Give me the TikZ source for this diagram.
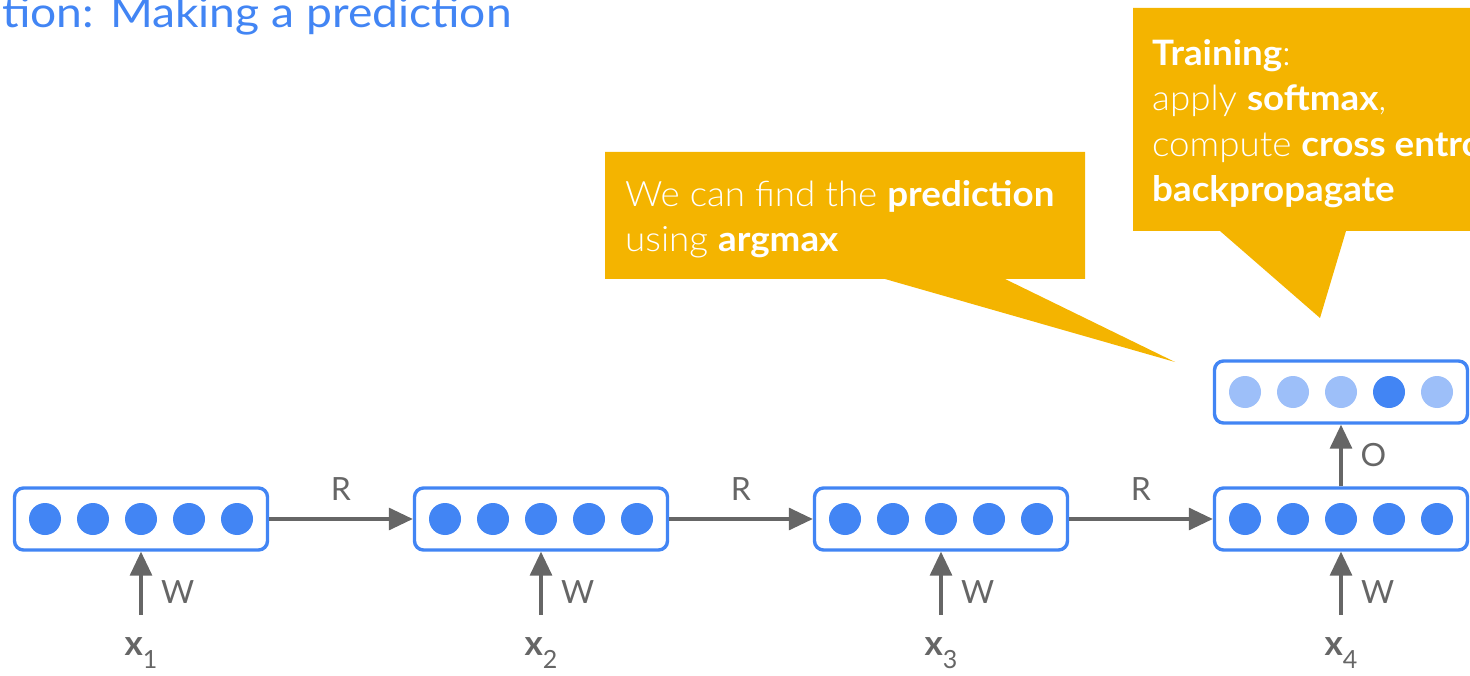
\documentclass[tikz,border=0pt]{standalone}
\usepackage{fontspec}
\setmainfont{Lato}
\newfontfamily\titlefont{Lato}[FakeStretch=1.1]
\newfontfamily\lightfont{Lato Light}[BoldFont=Lato Bold, FakeStretch=1.05]
\usetikzlibrary{arrows.meta,calc}
\definecolor{gblue}{HTML}{4285F4}
\definecolor{lblue}{HTML}{9DBFF9}
\definecolor{ggray}{HTML}{666666}
\definecolor{gyellow}{HTML}{F4B400}
\begin{document}
\begin{tikzpicture}[x=1pt,y=-1pt,
  vec/.style={draw=gblue, line width=3.4pt, rounded corners=9pt, fill=white,
    minimum width=253pt, minimum height=62pt, inner sep=0pt},
  unit/.style={circle, fill=gblue, minimum size=32pt, inner sep=0pt},
  soft/.style={unit, fill=lblue},
  link/.style={draw=ggray, line width=3.2pt, -{Triangle[length=24pt,width=22pt]}},
  lab/.style={text=ggray, inner sep=0pt, font=\fontsize{32}{36}\selectfont},
  xlab/.style={text=ggray, inner sep=0pt, font=\fontsize{35}{36}\selectfont},
  callout/.style={fill=gyellow},
  note/.style={text=white, inner sep=0pt, align=left, anchor=north west,
    font=\lightfont\fontsize{35}{45.5}\selectfont},
]
\useasboundingbox (0,0) rectangle (1470,676);
\clip (0,0) rectangle (1470,676);

% title
\node[anchor=base east, text=gblue, inner sep=0pt, font=\titlefont\fontsize{42}{44}\selectfont]
  (title) at (512,28) {tion: Making a prediction};

% hidden states with their units
\foreach \i/\cx in {1/141,2/541,3/941,4/1341} {
  \node[vec] (h\i) at (\cx,519) {};
  \foreach \k in {1,...,5}
    \node[unit] (h\i u\k) at ($(h\i.center)+({(\k-3)*48},0)$) {};
  \coordinate (in\i) at (\cx,615);
  \node[lab, anchor=west] (w\i) at ($(in\i)+(20,-23)$) {W};
  \node[xlab] (x\i) at (\cx,653) {{\bfseries x}\raisebox{-13pt}{\fontsize{25}{25}\selectfont\i}};
  \draw[link] (in\i) -- (h\i.south);
}

% output distribution
\node[vec] (y) at (1341,392) {};
\foreach \k in {1,2,3,5}
  \node[soft] (yu\k) at ($(y.center)+({(\k-3)*48},0)$) {};
\node[unit] (yu4) at ($(y.center)+(48,0)$) {};

% recurrent and output connectors
\foreach \a/\b in {1/2,2/3,3/4}
  \draw[link] (h\a.east) -- node[lab, midway, yshift=30pt] (r\a) {R} (h\b.west);
\draw[link] (h4.north) -- node[lab, midway, anchor=west, xshift=18pt] (o) {O} (y.south);

% callouts
\fill[callout] (605,152) -| (1085,279) -- (1005,279) -- (1175,362) -- (885,279) -| cycle;
\node[note] (pred) at (625,180) {We can find the \textbf{prediction}\\using \textbf{argmax}};

\fill[callout] (1133,8) -| (1480,231) -- (1346,231) -- (1320,318) -- (1220,231) -| cycle;
\node[note] (train) at (1152,39) {\textbf{Training}:\\apply \textbf{softmax},\\compute \textbf{cross entropy},\\\textbf{backpropagate}};
\end{tikzpicture}
\end{document}
